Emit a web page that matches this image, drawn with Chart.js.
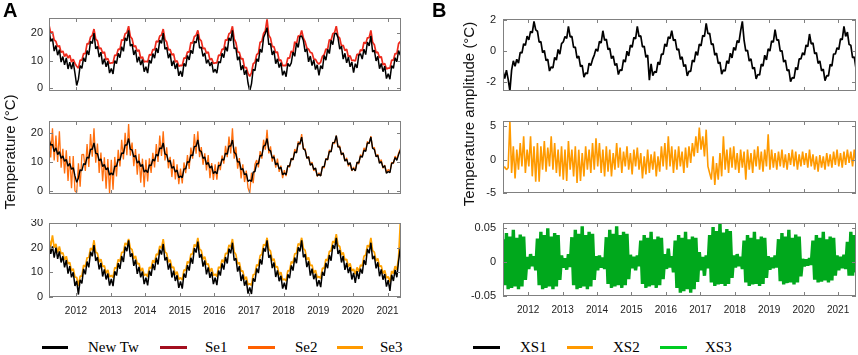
<!DOCTYPE html>
<html>
<head>
<meta charset="utf-8">
<script src="https://cdn.jsdelivr.net/npm/chart.js@4.4.0/dist/chart.umd.min.js"></script>
<style>
  body { margin: 0; background: #fff; width: 858px; height: 355px; position: relative; overflow: hidden; font-family: "Liberation Sans", Arial, sans-serif; }
  canvas { position: absolute; }
  .letter { position: absolute; top: 0; font: bold 20px/20px "Liberation Sans", Arial, sans-serif; color: #000; }
  .ytitle { position: absolute; height: 18px; line-height: 18px; text-align: center; font-size: 15px; color: #111; transform: rotate(-90deg); }
  .sw { position: absolute; top: 346px; height: 3px; }
  .lt { position: absolute; top: 340px; font: 15px/15px "Liberation Serif", "Times New Roman", serif; color: #000; }
</style>
</head>
<body>
<canvas id="a1" width="404" height="82" style="left:0;top:14px;width:404px;height:82px"></canvas>
<canvas id="a2" width="404" height="82" style="left:0;top:117px;width:404px;height:82px"></canvas>
<canvas id="a3" width="404" height="100" style="left:0;top:219px;width:404px;height:100px"></canvas>
<canvas id="b1" width="408" height="81" style="left:450px;top:15px;width:408px;height:81px"></canvas>
<canvas id="b2" width="408" height="81" style="left:450px;top:117px;width:408px;height:81px"></canvas>
<canvas id="b3" width="408" height="100" style="left:450px;top:219px;width:408px;height:100px"></canvas>

<div class="letter" style="left:3px">A</div>
<div class="letter" style="left:432px">B</div>
<div class="ytitle" style="left:-90px;top:143px;width:200px">Temperature (°C)</div>
<div class="ytitle" style="left:349px;top:105px;width:240px">Temperature amplitude (°C)</div>

<div class="sw" style="left:42px;width:26px;background:#000"></div><div class="lt" style="left:88px">New Tw</div>
<div class="sw" style="left:160px;width:27px;background:#a30f1f"></div><div class="lt" style="left:205px">Se1</div>
<div class="sw" style="left:248px;width:27px;background:#ff6000"></div><div class="lt" style="left:295px">Se2</div>
<div class="sw" style="left:337px;width:26px;background:#ff9a00"></div><div class="lt" style="left:380px">Se3</div>
<div class="sw" style="left:473px;width:27px;background:#000"></div><div class="lt" style="left:520px">XS1</div>
<div class="sw" style="left:567px;width:26px;background:#ff9900"></div><div class="lt" style="left:613px">XS2</div>
<div class="sw" style="left:660px;width:27px;background:#00cc22"></div><div class="lt" style="left:705px">XS3</div>

<script>
// sampling: one value every 0.05 year (~18 days)
const stepYears = 0.05;
const startA = 2011.22;
const startB = 2011.27;

const yearTicks = [2012, 2013, 2014, 2015, 2016, 2017, 2018, 2019, 2020, 2021];
const ticksA1 = [0, 10, 20];
const ticksA2 = [0, 10, 20];
const ticksA3 = [0, 10, 20, 30];
const ticksB1 = [-2, 0, 2];
const ticksB2 = [-5, 0, 5];
const ticksB3 = [-0.05, 0, 0.05];

// panel A, top: New Tw and Se1
const newTwA1 = [
  21.5,17,18,13.5,15.5,12,14,9.5,11.5,8.5,11,7,9.5,7,9.5,5.5,1,3.3,8.2,7.2,
  11.1,9.6,13.7,12.1,17.1,16.2,20,14.3,15.2,11.3,13.1,8.7,10.7,7.8,9.8,5.5,7.2,5.2,10,8.9,
  12.7,11.1,15.1,13.4,18.3,17.2,21,15.3,16,12.1,13.9,9.4,11.4,8.4,10.4,6,7.8,5.5,10.2,9,
  12.6,10.9,14.6,12.8,17.5,16.3,20,14.2,14.8,10.9,12.6,8.1,10,7,9,4.5,6.3,4.2,9,7.9,
  11.9,10.3,13.8,12.6,17,16.5,19.6,14.6,14.9,11.6,12.8,9,10.4,8.1,9.5,5.8,6.9,5.5,9.7,9.2,
  12.7,11.1,15.1,13.4,18.3,17.2,21,14.4,14.6,10.2,11.5,6.6,8.3,4.9,6.6,1.9,-1,1.6,6.9,6.4,
  10.7,9.7,14.2,13,18.4,20,22,15.8,16.2,12.1,13.6,8.9,10.7,7.5,9.3,4.7,6.3,4.2,9,7.9,
  9.2,13.1,11.6,16.4,14.8,18.7,19,17.3,13.2,14.3,9.6,11.7,8.2,10.3,6.8,8.5,4.7,8.2,7,11.9,
  10.2,14.1,12.6,17.4,15.8,19.7,20,18.3,14.2,15.3,10.6,12.7,9.2,11.3,7.8,9.5,5.7,8.9,7.4,12,
  12.5,10.6,14.2,12.2,16.8,15.4,19,13.2,13.8,9.9,11.6,7.1,9,6,8,3.5,5.3,3.3,8.2,7.2,
  11.1,9.6,13.7,12
];
const se1 = [
  23,20,20.5,17.5,17,15,15.5,13,13.5,11.5,12.5,11,12,9.5,10.5,9,8,7.3,10.2,10.2,
  12.6,12.6,16.2,16.1,18.6,19.2,21.5,17.8,17.2,14.3,14.6,12.7,13.2,10.3,10.8,9,9.2,9.2,12,11.9,
  14.2,14.1,17.6,17.4,19.8,20.2,22.5,18.8,18,15.1,15.4,13.4,13.9,10.9,11.4,9.5,9.8,9.5,12.2,12,
  14.1,13.9,17.1,16.8,19,19.3,21.5,17.7,16.8,13.9,14.1,12.1,12.5,9.5,10,8,8.3,8.2,11,10.9,
  13.2,13.1,16.6,16.4,18.8,19.2,21,17.8,17.2,14.3,14.6,12.7,13.2,10.3,10.8,9,9.2,9.2,12,11.9,
  14.2,14.1,17.6,17.4,19.8,20.2,22.5,17.9,16.6,13.2,13,10.6,10.8,7.4,7.6,5.4,4.3,5.6,8.9,9.4,
  12.2,12.7,16.7,17,19.9,20.9,25,19.3,18.2,15.1,15.1,12.9,13.2,10,10.3,8.2,8.3,8.2,11,10.9,
  13.5,12.8,16.9,16,19,18.8,21,18.2,16.9,14.6,14.2,13,12.8,10.6,10.5,9.3,8.8,9.5,11.6,12.2,
  14.2,14.1,17.6,17.4,19.8,20.2,22.5,18.8,18.2,15.3,15.6,13.7,14.2,11.3,11.8,10,10.2,9.9,12.4,12,
  14,13.6,16.7,16.2,18.3,18.4,21,16.7,15.8,12.9,13.1,11.1,11.5,8.5,9,7,7.3,7.3,10.2,10.2,
  12.6,12.6,16.2,17
];

// panel A, middle: New Tw and Se2
const newTwA2 = [
  17.8,15.7,16,13.5,14.8,12.5,13.5,11.2,12,10.2,10.8,8.5,9.5,7.5,8,5.2,3,4.5,7.3,7,
  9.4,9.1,11.6,11.3,14.3,14.3,16.5,12.9,12.8,10.4,11,8.4,9.1,7.3,8,5.5,6.2,5.5,8.5,8.5,
  10.9,10.6,13.1,12.8,15.8,15.8,18,14.3,14.1,11.7,12.2,9.6,10.3,8.4,9.1,6.5,7.2,6.3,9,8.7,
  10.9,10.3,12.6,12,14.8,14.5,16.5,12.7,12.5,10,10.5,7.8,8.4,6.5,7.2,4.6,5.2,4.6,7.6,7.6,
  10.1,9.8,12.4,12.1,15.3,15.3,17.5,13.8,13.6,11.2,11.7,9.1,9.8,7.9,8.6,6,6.7,5.9,8.8,8.7,
  11,10.6,13,12.6,15.5,15.4,17.5,13.3,12.7,9.9,10.1,7.3,7.7,5.6,6,3.3,3.8,3.3,6.5,6.7,
  9.4,9.3,12.2,12.1,15.4,15.7,18,14.1,13.8,11.3,11.7,9,9.6,7.6,8.2,5.6,6.2,5.6,8.6,8.6,
  11.1,10.8,13.4,13.1,16.3,16.3,18.5,14.5,14,11.3,11.7,8.9,9.4,7.4,7.9,5.2,5.8,5.2,8.3,8.4,
  11,10.8,13.6,13.4,16.6,16.7,19,15.2,15,12.5,13,10.3,10.9,9,9.7,7.1,7.7,6.9,9.8,9.7,
  12,11.6,14,13.6,16.5,16.4,18.5,14.6,14.3,11.8,12.2,9.5,10.1,8.1,8.7,6.1,6.7,6.3,9.5,9.7,
  11.5,10.5,12.5,14
];
const se2 = [
  21,11.5,21.5,10.5,19,10,20.5,8,14.5,6,14,3.5,12,1,12,0,-0.5,9.5,1.5,12.5,
  12.6,6.9,16.1,8.3,19.5,11.8,21.5,9.7,16.3,6.2,13.2,3.4,11.6,0.8,11,-0.7,10.7,0.5,11.7,5,
  14.1,8.4,17.6,10.8,20,12.3,23,12.1,16.6,8.5,14.4,5.6,12.8,2.9,11.1,1.3,10.7,3.3,11.2,6.2,
  13.1,8.1,16.1,10,19,12,20.5,10.5,15,7.8,11.7,4.8,10.9,4,9.2,2.4,7.7,2.6,9.8,6.1,
  12.3,7.6,14.9,11.1,19.5,12.8,20.5,11.6,15.1,9,12.9,7.1,12.3,4.4,9.6,3.8,9.2,3.9,10,7.2,
  12.2,9.4,15.5,11.6,18.7,12.9,21.5,11.1,15.2,7.7,11.3,4.3,9.2,3.1,7,1.1,-0.7,6.3,2.7,9.2,
  10.6,8.1,13.7,11.1,17.6,14.2,21,12.9,15.3,10.1,12.4,8,11.1,6.6,8.7,4.4,7.2,5.1,8.8,8.1,
  11.3,10.6,14.4,13.1,17,15.8,19.5,14.3,14.5,11.1,11.9,8.9,9.9,6.9,7.9,5,6.3,5.2,8.5,7.9,
  11.2,10.6,14.1,13.4,16.8,16.2,19,15,15.5,12.3,13.2,10.3,11.4,8.5,9.7,6.9,8.2,6.9,10,9.2,
  12.5,11.6,14.8,13.8,17,16.2,18.8,14.6,15,11.8,12.6,9.7,10.8,7.8,8.9,6.3,7.4,6.5,9.9,9.4,
  12,11,13,14.5
];

// panel A, bottom: New Tw and Se3
const newTwA3 = [
  22,17.5,20.5,16,20,15.5,18.5,14,16.5,12,15,9.5,12.5,8,10,4.5,6.5,1,7,5.5,
  11.4,9.2,14.4,12,18.3,16.5,21,14.6,16.2,11.2,13.8,8.3,11.2,7.1,9.5,4.6,7.3,4.4,10.4,8.7,
  13.7,11.4,16.6,14.2,20.4,18.6,23,16.3,17.7,12.6,15.1,9.4,12.2,8,10.3,5.2,7.8,4.7,10.6,8.6,
  13.4,10.9,15.9,13.2,19.2,17.2,21.5,14.8,16.2,11.1,13.6,7.9,10.7,6.5,8.8,3.7,6.3,3.4,9.5,7.8,
  12.9,10.7,15.9,13.5,19.8,18,22.5,15.9,17.4,12.3,14.8,9.2,12,7.8,10.2,5.2,7.8,4.8,10.7,8.7,
  13.6,11.1,16.2,13.6,19.6,17.7,22,14.8,15.7,10.3,12.5,6.5,9.1,4.6,6.7,1.4,3.9,1.2,7.6,6.2,
  11.6,9.7,15.3,13.2,19.8,18.4,23,15.9,17.1,11.7,14,8.1,10.8,6.4,8.6,3.4,5.8,3,9.2,7.6,
  12.8,10.7,16,13.7,20.1,18.5,23,16.1,17.4,12.1,14.5,8.7,11.5,7.2,9.4,4.3,6.8,4,10.2,8.6,
  13.8,11.7,17,14.7,21.1,19.5,24,17.5,19,14,16.6,11,13.8,9.7,12.1,7.1,9.8,5.7,10.5,7.3,
  11.5,9.5,15,13,19.5,17.7,22,15.3,16.7,11.6,14.1,8.4,11.2,7,9.3,4.2,6.8,2.5,9,6.5,
  11,8,14.5,20
];
const se3 = [
  23.5,20.5,25,20,21.5,18,20.5,17.5,18,15,16.5,13.5,14,10.5,11.5,8,8,4.5,8.5,8.5,
  12.9,12.2,15.9,16,19.8,19,23,18.1,17.7,14.2,15.3,12.3,12.7,9.6,11,8.1,8.8,7.9,11.9,11.7,
  15.2,14.4,18.1,18.2,21.9,21.1,23.5,19.8,19.2,15.6,16.6,13.4,13.7,10.5,11.8,8.7,9.3,8.2,12.1,11.6,
  14.9,13.9,17.4,17.2,20.7,19.7,23.5,18.3,17.7,14.1,15.1,11.9,12.2,9,10.3,7.2,7.8,6.9,11,10.8,
  14.4,13.7,17.4,17.5,21.3,20.5,24,19.4,18.9,15.3,16.3,13.2,13.5,10.3,11.7,8.7,9.3,8.3,12.2,11.7,
  15.1,14.1,17.7,17.6,21.1,20.2,23.5,18.3,17.2,13.3,14,10.5,10.6,7.1,8.2,4.9,5.4,4.7,9.1,9.2,
  13.1,12.7,16.8,17.2,21.3,20.9,24,19.4,18.6,14.7,15.5,12.1,12.3,8.9,10.1,6.9,7.3,6.5,10.7,10.6,
  14.3,13.7,17.5,17.7,21.6,21,24,19.6,18.9,15.1,16,12.7,13,9.7,10.9,7.8,8.3,7.5,11.7,11.6,
  15.3,14.7,18.5,18.7,22.6,22,25.5,21,20.5,17,18.1,15,15.3,12.2,13.6,10.6,11.3,9.2,12,10.3,
  13,12.5,16.5,17,21,20.2,24,18.8,18.2,14.6,15.6,12.4,12.7,9.5,10.8,7.7,8.3,6,10.5,9.5,
  12.5,11,16,30
];

// panel B
const xs1 = [
  -1.3,-1.8,-1.25,-1.85,-2.6,-1.25,-0.65,-1,-0.55,-0.8,-0.1,-0.15,0.45,0.35,0.95,0.7,1.25,1.15,1.9,1.35,
  1.26,0.55,0.59,-0.12,0.02,-0.64,-0.55,-1.31,-1.04,-1.11,-0.43,-0.6,0.08,-0.22,0.46,0.57,0.92,0.8,1.57,0.9,
  0.93,0.21,0.24,-0.48,-0.35,-1.02,-0.94,-1.71,-1.43,-1.49,-0.8,-0.96,-0.56,-0.28,0.12,-0.04,0.6,0.5,1.29,0.67,
  0.75,0.08,0.16,-0.51,-0.33,-0.95,-0.82,-1.54,-1.23,-1.28,-0.58,-0.73,-0.03,-0.33,0.37,0.22,0.87,0.77,1.58,0.92,
  0.96,0.25,0.29,-0.42,-0.28,-1.9,-0.85,-1.61,-1.34,-1.41,-0.73,-0.9,-0.22,-0.24,0.44,0.27,0.9,0.78,1.29,0.66,
  0.73,0.05,0.12,-0.56,-0.39,-1.02,-0.9,-1.63,-1.32,-1.34,-0.61,-0.73,-0.05,-0.3,0.43,0.31,0.99,0.92,1.77,1.1,
  1.13,0.41,0.44,-0.28,-0.15,-0.82,-0.74,-1.51,-1.24,-1.32,-0.65,-0.83,-0.16,-0.46,0.21,0.03,0.65,0.52,1.28,1.9,
  0.68,-0.02,0.03,-0.67,-0.52,-1.17,-1.07,-1.82,-1.53,-1.57,-0.86,-1,-0.29,-0.59,0.12,-0.02,0.64,0.55,1.37,0.69,
  0.71,-0.02,0,-0.73,-0.61,-1.29,-1.22,-2,-1.73,-1.78,-1.08,-1.23,-0.53,-0.53,-0.13,-0.28,0.37,0.27,1.08,0.44,
  0.5,-0.19,-0.13,-0.82,-0.66,-1.3,-1.19,-1.93,-1.61,-1.62,-0.88,-0.99,-0.21,-0.21,0.19,0.08,0.77,0.71,1.58,0.93,
  1.2,0.4,0.35,-0.45,-0.4,-1.15
];
const xs2 = [
  -1.3,-1.1,-1.5,-1.2,5.8,-2,2,-2.8,1.5,-1.5,2.5,-1,3.5,-2,1.5,-1,3.5,-2.5,2,-3.3,
  2.5,-3.3,2,-1.5,2.8,-1.8,1.8,-1,3.5,-1.5,2.5,-2,1.5,-2.5,2,-3,1.5,-3.2,2.8,-1.5,
  1.5,-2.5,2,-3.5,1.5,-3.2,1,-2.5,2,-1.5,1.5,-2,2.5,-1.5,3.2,-1,2.5,-2,1.5,-2.5,
  2,-1.8,1.5,-2.5,1,-1.5,2.5,-1.2,1.8,-2,1.2,-1,2,-1.5,1,-2.2,1.5,-1,1.8,-1.5,
  1,-2.8,0.5,-2.2,1.5,-2,0.8,-1.5,1.2,-2.5,0.5,-1.8,2,-1,2.5,-1.5,3.5,-1,2,-2,
  1.5,-1.5,2,-1,1.2,-2,1.8,-1.2,2,-0.5,2.5,0.5,3.5,1,4.8,1.5,3.5,0.5,4.5,-1,
  -2,-3,0.5,-3.8,-0.5,-3,1,-2.5,3.5,-1.5,1.5,-2,1.8,-1.2,2,-1.5,1,-2,1.5,-1.2,
  1.2,-3,1.5,-1.5,1,-2,1.5,-1,2,-1.5,1.2,-1.8,1.5,-1,3.8,-1.5,1.5,-1.2,1,-1.5,
  1.2,-1,1.5,-1.2,0.8,-1.5,1,-0.8,1.5,-1,1.2,-1.5,0.8,-1,1.2,-0.8,1,-1.2,1.5,-1,
  0.8,-1.5,0.5,-1.8,0.7,-1.2,0.5,-1.5,1,-1,0.8,-1.2,1.2,-0.8,1.5,-1,1,-1.2,1.2,-0.8,
  1.5,-0.5,1.2,-1,1.5,-0.8
];
const xs3 = [
  .034,-.034,.043,-.04,.038,-.038,.048,-.036,.036,-.04,.041,-.036,.038,-.026,.008,-.01,.012,-.006,.009,-.012,
  .035,-.034,.045,-.04,.04,-.038,.05,-.036,.038,-.04,.043,-.036,.04,-.026,.01,-.008,.006,-.011,.012,-.007,
  .037,-.034,.048,-.04,.042,-.038,.053,-.036,.04,-.04,.045,-.036,.042,-.026,.009,-.012,.01,-.008,.007,-.01,
  .037,-.032,.048,-.038,.042,-.036,.053,-.034,.04,-.038,.045,-.034,.042,-.025,.011,-.009,.008,-.012,.01,-.006,
  .032,-.032,.04,-.038,.036,-.036,.045,-.034,.034,-.038,.038,-.034,.036,-.025,.012,-.01,.02,-.008,.009,-.015,
  .032,-.038,.04,-.045,.036,-.043,.045,-.04,.034,-.045,.038,-.04,.036,-.029,.015,-.012,.008,-.02,.01,-.009,
  .04,-.03,.052,-.035,.046,-.033,.058,-.032,.044,-.035,.049,-.032,.046,-.023,.01,-.008,.012,-.006,.008,-.01,
  .032,-.03,.04,-.035,.036,-.033,.045,-.032,.034,-.035,.038,-.032,.036,-.023,.009,-.011,.007,-.009,.01,-.008,
  .034,-.028,.043,-.033,.038,-.031,.048,-.03,.036,-.033,.041,-.03,.038,-.021,.005,-.006,.004,-.005,.006,-.004,
  .032,-.026,.04,-.03,.036,-.029,.045,-.027,.034,-.03,.038,-.027,.036,-.02,.01,-.012,.008,-.009,.011,-.01,
  .03,-.02,.045,-.02,.04,-.015
];

function timeAxis(start, n) {
  return Array.from({ length: n }, (_, i) => +(start + i * stepYears).toFixed(3));
}

// box around each plot with small inward ticks
const framePlugin = {
  id: 'frame',
  afterDraw(chart) {
    const { ctx, chartArea: a, scales } = chart;
    ctx.save();
    ctx.strokeStyle = '#808080';
    ctx.lineWidth = 1;
    ctx.strokeRect(a.left + 0.5, a.top + 0.5, a.right - a.left - 1, a.bottom - a.top - 1);
    ctx.beginPath();
    scales.y.ticks.forEach(t => {
      const y = Math.round(scales.y.getPixelForValue(t.value)) + 0.5;
      ctx.moveTo(a.left, y); ctx.lineTo(a.left + 4, y);
      ctx.moveTo(a.right, y); ctx.lineTo(a.right - 4, y);
    });
    yearTicks.forEach(v => {
      const x = Math.round(scales.x.getPixelForValue(v)) + 0.5;
      ctx.moveTo(x, a.top); ctx.lineTo(x, a.top + 4);
      ctx.moveTo(x, a.bottom); ctx.lineTo(x, a.bottom - 4);
    });
    ctx.stroke();
    ctx.restore();
  }
};

function panel(id, cfg) {
  const n = Math.max(...cfg.series.map(s => s.data.length));
  return new Chart(document.getElementById(id), {
    type: 'line',
    data: {
      labels: timeAxis(cfg.start, n),
      datasets: cfg.series.map(s => ({
        data: s.data,
        borderColor: s.color,
        borderWidth: s.width || 1,
        borderJoinStyle: 'bevel',
        pointRadius: 0,
        tension: 0,
        fill: false
      }))
    },
    options: {
      responsive: false,
      animation: false,
      devicePixelRatio: 1,
      events: [],
      layout: { padding: cfg.pad },
      plugins: { legend: { display: false }, tooltip: { enabled: false } },
      scales: {
        x: {
          type: 'linear',
          min: cfg.xMin,
          max: cfg.xMax,
          display: !!cfg.showX,
          grid: { display: false, drawTicks: false },
          border: { display: false },
          afterBuildTicks: s => { s.ticks = yearTicks.map(v => ({ value: v })); },
          afterFit: s => { s.height = cfg.showX ? 22 : 0; s.paddingLeft = 0; s.paddingRight = 0; },
          ticks: {
            padding: 8, color: '#222', autoSkip: false, maxRotation: 0,
            font: { family: 'Liberation Sans', size: 10 },
            callback: v => String(v)
          }
        },
        y: {
          min: cfg.yMin,
          max: cfg.yMax,
          grid: { display: false, drawTicks: false },
          border: { display: false },
          afterBuildTicks: s => { s.ticks = cfg.yTicks.map(v => ({ value: v })); },
          afterFit: s => { s.width = cfg.yWidth; s.paddingTop = 0; s.paddingBottom = 0; },
          ticks: {
            padding: cfg.yPad, color: '#222',
            font: { family: 'Liberation Sans', size: 11 },
            callback: v => String(v)
          }
        }
      }
    },
    plugins: [framePlugin]
  });
}

const padTop = { top: 4, right: 3, bottom: 5, left: 0 };
const padTopB = { top: 4, right: 2, bottom: 5, left: 0 };

panel('a1', { start: startA, xMin: 2011.22, xMax: 2021.39, yMin: -1, yMax: 25.5, yTicks: ticksA1, yWidth: 49, yPad: 6, pad: padTop,
  series: [{ data: newTwA1, color: '#000', width: 1.5 }, { data: se1, color: '#ee2a1c', width: 1.7 }] });
panel('a2', { start: startA, xMin: 2011.22, xMax: 2021.39, yMin: -1, yMax: 24, yTicks: ticksA2, yWidth: 49, yPad: 6, pad: padTop,
  series: [{ data: newTwA2, color: '#000', width: 1.4 }, { data: se2, color: '#ff6f0f', width: 1.3 }] });
panel('a3', { start: startA, xMin: 2011.22, xMax: 2021.39, yMin: 0, yMax: 30, yTicks: ticksA3, yWidth: 49, yPad: 6, showX: true,
  pad: { top: 4, right: 3, bottom: 0, left: 0 },
  series: [{ data: newTwA3, color: '#000', width: 1.5 }, { data: se3, color: '#ffa200', width: 1.7 }] });

panel('b1', { start: startB, xMin: 2011.27, xMax: 2021.52, yMin: -2.6, yMax: 2.05, yTicks: ticksB1, yWidth: 53, yPad: 7, pad: padTopB,
  series: [{ data: xs1, color: '#000', width: 1.7 }] });
panel('b2', { start: startB, xMin: 2011.27, xMax: 2021.52, yMin: -5, yMax: 5.8, yTicks: ticksB2, yWidth: 53, yPad: 7, pad: padTopB,
  series: [{ data: xs2, color: '#ff9a00', width: 1.6 }] });
panel('b3', { start: startB, xMin: 2011.27, xMax: 2021.52, yMin: -0.05, yMax: 0.058, yTicks: ticksB3, yWidth: 53, yPad: 7, showX: true,
  pad: { top: 4, right: 2, bottom: 1, left: 0 },
  series: [{ data: xs3, color: '#00a81c', width: 3.4 }] });
</script>
</body>
</html>
